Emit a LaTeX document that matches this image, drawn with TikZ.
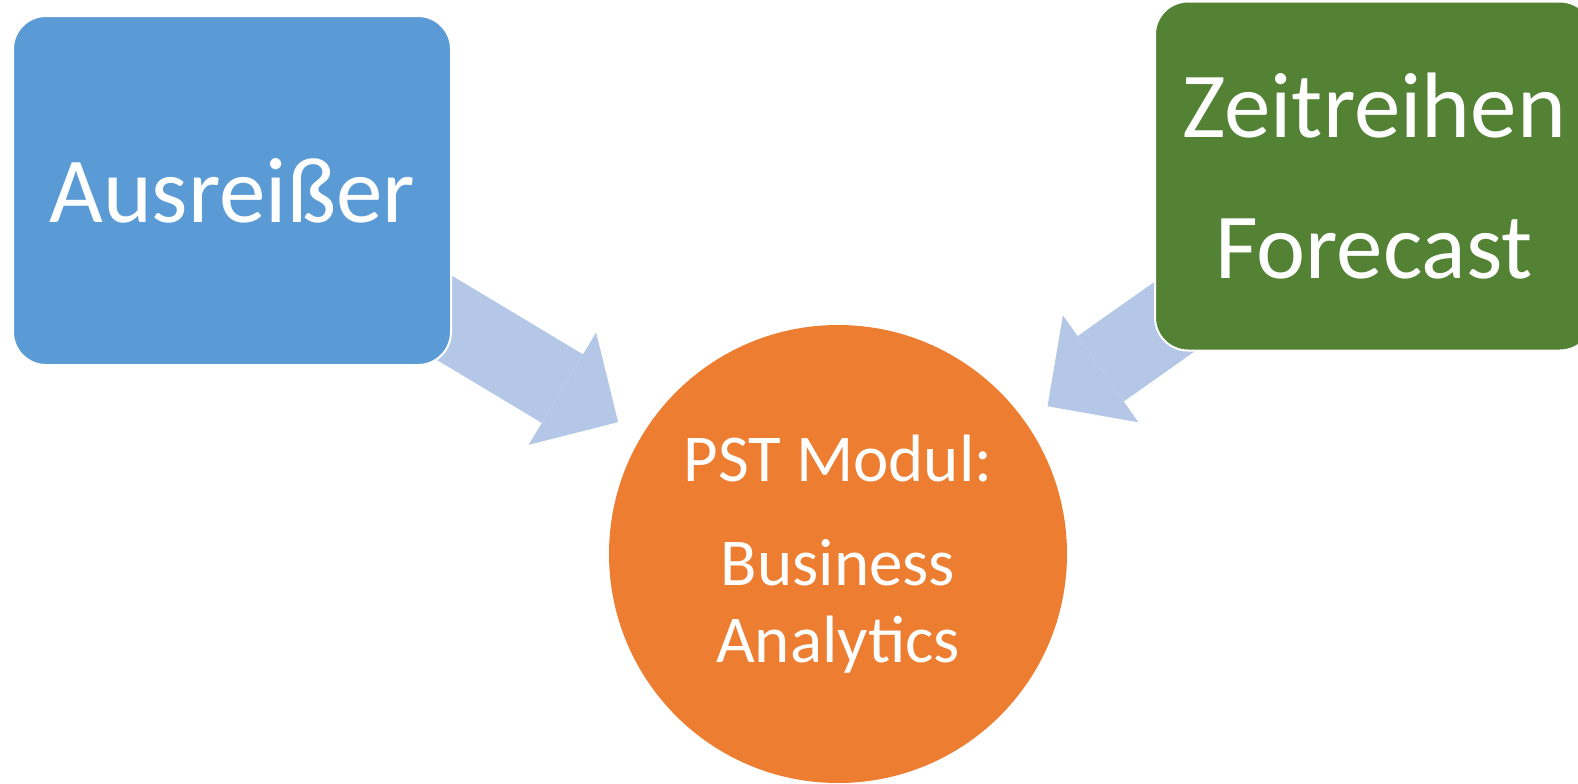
\documentclass[tikz,border=0pt]{standalone}
\usepackage{fontspec}
\setmainfont{Carlito}
\usetikzlibrary{shapes, arrows.meta, positioning, backgrounds}

\definecolor{boxblue}{HTML}{5B9BD5}
\definecolor{boxgreen}{HTML}{548235}
\definecolor{modorange}{HTML}{ED7D31}
\definecolor{feedblue}{HTML}{B4C7E7}

\tikzset{
  topic/.style={rectangle, rounded corners=16.5pt, draw=white, line width=1pt,
    minimum width=219pt, minimum height=174.5pt, text=white, align=center, inner sep=0pt},
  modul/.style={circle, fill=modorange, minimum size=229pt, text=white, align=center, inner sep=0pt},
  feed/.style={feedblue, line width=40pt, shorten <=-40pt, shorten >=13.5pt,
    -{Triangle[length=32.5pt, width=65.5pt, line width=0pt]}}
}

\begin{document}
\begin{tikzpicture}[x=0.5pt, y=-0.5pt]
  \useasboundingbox (0,0) rectangle (1578,783);
  \node[topic, fill=boxblue, font=\fontsize{46.5}{56}\selectfont] (ausr) at (232,190.5) {Ausreißer};
  \node[topic, fill=boxgreen, font=\fontsize{46.5}{70.5}\selectfont] (zeit) at (1374,176) {Zeitreihen\\Forecast};
  \node[modul, font=\fontsize{33.5}{38.5}\selectfont] (pst) at (838,554) {PST Modul:\\[13.5pt]Business\\Analytics};
  % arrows behind the boxes
  \begin{pgfonlayer}{background}
    \draw[feed] (ausr) -- (pst);
    \draw[feed] (zeit) -- (pst);
  \end{pgfonlayer}
\end{tikzpicture}
\end{document}
